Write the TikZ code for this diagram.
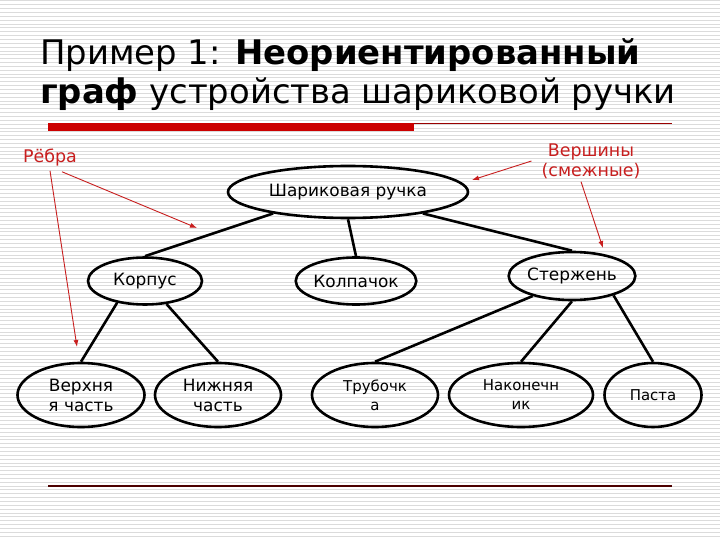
\documentclass[tikz,border=0pt]{standalone}
\usepackage{fontspec}
\setmainfont{DejaVu Sans}
\usetikzlibrary{shapes.geometric,arrows.meta}
\definecolor{slidered}{RGB}{204,0,0}
\definecolor{notered}{RGB}{200,30,30}

\begin{document}
\begin{tikzpicture}[
    x=1bp, y=-1bp,
    vertex/.style={ellipse, draw, line width=2.6bp, inner sep=0pt, align=center, font=\fontsize{17}{20}\selectfont},
    smalltext/.style={font=\fontsize{15}{19}\selectfont},
    edge/.style={line width=2.6bp},
    note/.style={text=notered, align=center, inner sep=0pt, font=\fontsize{17.5}{20}\selectfont},
    pointer/.style={-{Latex[length=7bp,width=5bp]}, draw=notered, line width=0.9bp}
]
    % background with thin stripes
    \useasboundingbox (0,0) rectangle (720,540);
    \fill[white] (0,0) rectangle (720,540);
    \foreach \k in {0,...,140}
        \draw[gray!28, line width=1bp] (0,\k*3.85+1) -- (720,\k*3.85+1);

    % title
    \node[anchor=base west, inner sep=0pt, font=\fontsize{34}{38}\selectfont] (title1) at (40,65) {Пример 1: \textbf{Неориентированный}};
    \node[anchor=base west, inner sep=0pt, font=\fontsize{34}{38}\selectfont] (title2) at (40,104) {\textbf{граф} устройства шариковой ручки};
    \fill[slidered] (48,123) rectangle (414,131);
    \draw[red!60!black, line width=0.8bp] (414,123.5) -- (672,123.5);
    \draw[red!30!black, line width=1.2bp] (48,486) -- (672,486);

    % vertices
    \node[vertex, minimum width=240bp, minimum height=52bp] (pen) at (348,192) {Шариковая ручка};

    \node[vertex, minimum width=114bp, minimum height=47bp] (korpus) at (145,281) {Корпус};
    \node[vertex, minimum width=114bp, minimum height=47bp] (kolpachok) at (356,281) {Колпачок};
    \node[vertex, minimum width=116bp, minimum height=48bp] (sterzhen) at (572,276) {Стержень};

    \node[vertex, minimum width=127bp, minimum height=64bp] (verkh) at (81,395) {Верхня\\я часть};
    \node[vertex, minimum width=126bp, minimum height=64bp] (nizh) at (218,395) {Нижняя\\часть};
    \node[vertex, smalltext, minimum width=126bp, minimum height=64bp] (trubka) at (375,395) {Трубочк\\а};
    \node[vertex, smalltext, minimum width=144bp, minimum height=64bp] (nakon) at (521,395) {Наконечн\\ик};
    \node[vertex, smalltext, minimum width=97bp, minimum height=64bp] (pasta) at (653,395) {Паста};

    % edges
    \draw[edge] (pen.196) -- (korpus.north);
    \draw[edge] (pen.south) -- (kolpachok.north);
    \draw[edge] (pen.344) -- (sterzhen.north);
    \draw[edge] (korpus.218) -- (verkh.north);
    \draw[edge] (korpus.313) -- (nizh.north);
    \draw[edge] (sterzhen.207) -- (trubka.north);
    \draw[edge] (sterzhen.south) -- (nakon.north);
    \draw[edge] (sterzhen.335) -- (pasta.north);

    % notes
    \node[note] (rebra) at (50,158) {Рёбра};
    \node[note] (vershiny) at (591,161) {Вершины\\(смежные)};

    \coordinate (edgetip1) at (197,228);
    \coordinate (edgetip2) at (77,347);
    \coordinate (vertip1) at (472,180);
    \coordinate (vertip2) at (603,248);

    \draw[pointer] ([xshift=12bp,yshift=-5bp]rebra.south) -- (edgetip1);
    \draw[pointer] ([yshift=-4bp]rebra.south) -- (edgetip2);
    \draw[pointer] ([xshift=-10bp]vershiny.west) -- (vertip1);
    \draw[pointer] ([xshift=-10bp,yshift=-3bp]vershiny.south) -- (vertip2);
\end{tikzpicture}
\end{document}
